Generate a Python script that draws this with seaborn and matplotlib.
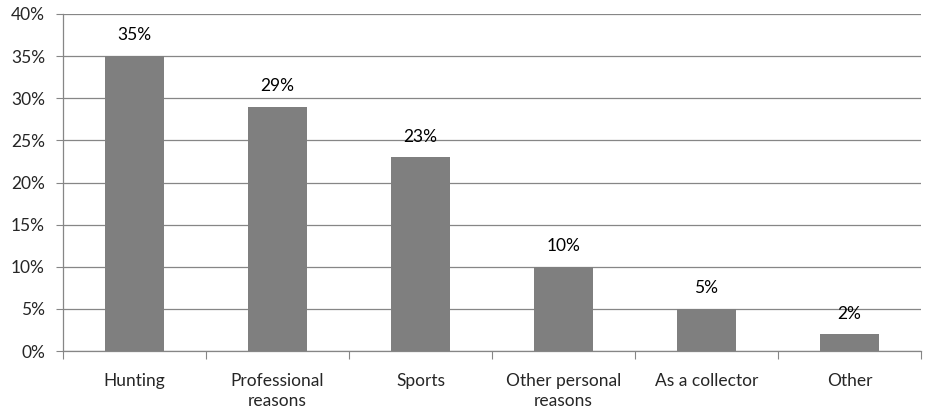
import numpy as np
import pandas as pd
import matplotlib
matplotlib.use("Agg")
import matplotlib.pyplot as plt
import seaborn as sns
from matplotlib.ticker import PercentFormatter, FixedLocator

categories = ["Hunting", "Professional\nreasons", "Sports", "Other personal\nreasons", "As a collector", "Other"]
values = [35, 29, 23, 10, 5, 2]

sns.set_style("white")
plt.rcParams['font.family'] = ['Lato', 'DejaVu Sans']

df = pd.DataFrame({"reason": categories, "share": values})

fig = plt.figure(figsize=(9.32, 4.16), dpi=100)
ax = fig.add_axes([63 / 932, 1 - 351 / 416, (921 - 63) / 932, (351 - 14) / 416])

sns.barplot(data=df, x="reason", y="share", color="#7f7f7f", saturation=1, width=0.41,
            linewidth=0, ax=ax)

ax.set_ylim(0, 40)
ax.set_xlim(-0.5, len(categories) - 0.5)
ax.set_yticks(range(0, 41, 5))
ax.yaxis.set_major_formatter(PercentFormatter(decimals=0))
ax.yaxis.grid(True, color="#868686", linewidth=0.9)
ax.set_axisbelow(True)

for i, v in enumerate(values):
    ax.text(i, v + 1.5, f"{v}%", ha="center", va="bottom", fontsize=12.5, color="black")

# category boundary ticks on x-axis
ax.xaxis.set_major_locator(FixedLocator(np.arange(-0.5, len(categories), 1.0)))
ax.xaxis.set_minor_locator(FixedLocator(np.arange(len(categories))))
ax.set_xticklabels([])
ax.set_xticklabels(categories, minor=True)
ax.tick_params(axis="x", which="major", length=6, color="#868686", direction="out", bottom=True)
ax.tick_params(axis="x", which="minor", length=0, labelsize=12.5, pad=16)
ax.tick_params(axis="y", length=5, color="#868686", direction="out", left=True, labelsize=12.5, pad=8)
for lbl in ax.get_xticklabels(minor=True):
    lbl.set_linespacing(1.3)

for side in ["top", "right"]:
    ax.spines[side].set_visible(False)
for side in ["left", "bottom"]:
    ax.spines[side].set_color("#868686")
    ax.spines[side].set_linewidth(0.9)

ax.set_xlabel("")
ax.set_ylabel("")

fig.savefig("out.png", dpi=100)
